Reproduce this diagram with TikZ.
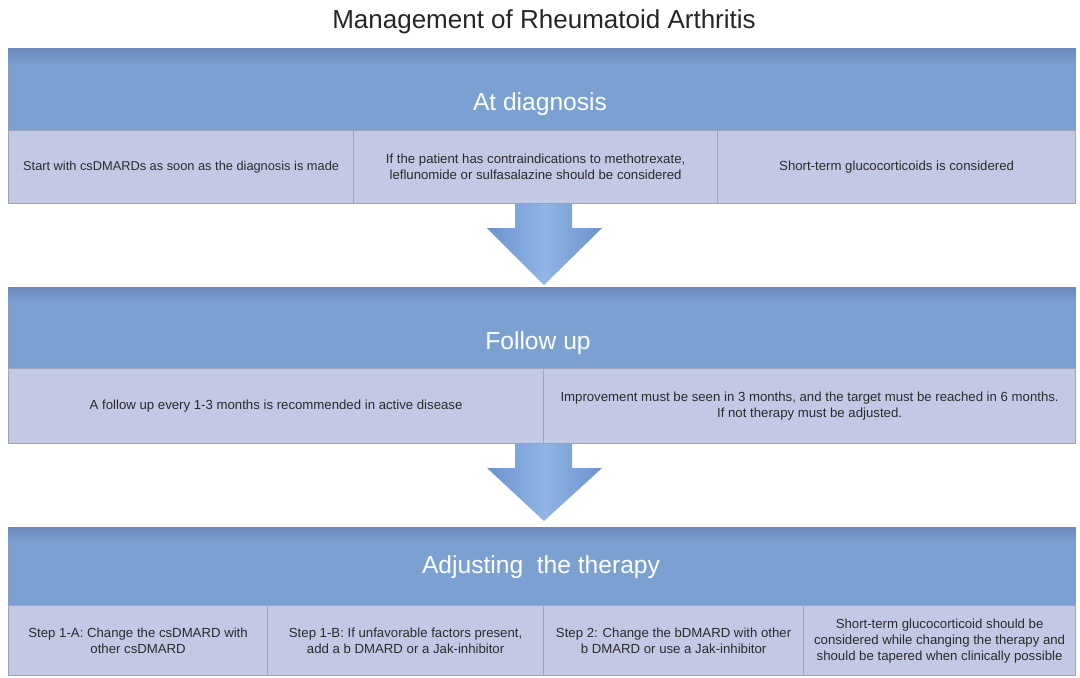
\documentclass[tikz,border=0pt]{standalone}
\usepackage{fontspec}
\setmainfont{Liberation Sans}
\definecolor{hdr}{HTML}{7BA0D2}
\definecolor{hdrdark}{HTML}{6B89BA}
\definecolor{hdrline}{HTML}{8A9CBC}
\definecolor{subfill}{HTML}{C3C9E4}
\definecolor{subline}{HTML}{9EA3B8}
\definecolor{txt}{HTML}{2B2B2B}
\definecolor{arrmid}{HTML}{90B5E6}
\definecolor{arredge}{HTML}{6A93CC}
\begin{document}
\begin{tikzpicture}[x=0.5pt,y=-0.5pt,
  hdrbox/.style={draw=hdrline, line width=0.6pt, fill=hdr, inner sep=0pt, anchor=north west},
  subbox/.style={draw=subline, line width=0.6pt, fill=subfill, inner sep=0pt, anchor=north west,
     align=center, text=txt, font=\fontsize{6.6pt}{8pt}\selectfont},
  hdrtext/.style={text=white, font=\fontsize{12.3pt}{14pt}\selectfont, anchor=base},
  titletext/.style={text=black!85, font=\fontsize{13pt}{15pt}\selectfont, anchor=base},
  bigarrow/.style={left color=arredge, right color=arredge, middle color=arrmid, draw=none}]
\useasboundingbox (0,0) rectangle (1080,677);
\fill[white] (0,0) rectangle (1080,677);

% title
\node[titletext] (title) at (544,28) {Management of Rheumatoid Arthritis};

% arrows
\path[bigarrow] (515,200) -- (572,200) -- (572,228) -- (602,228) -- (544,285) -- (487,228) -- (515,228) -- cycle;
\path[bigarrow] (515,440) -- (572,440) -- (572,468) -- (602,468) -- (544,521) -- (487,468) -- (515,468) -- cycle;

% block 1
\node[hdrbox, minimum width=533.5pt, minimum height=41pt] (h1) at (8,48) {};
\fill[top color=hdrdark, bottom color=hdr] ([shift={(0.3pt,-0.3pt)}]h1.north west) rectangle ([shift={(-0.3pt,-8pt)}]h1.north east);
\node[hdrtext] (h1t) at (540,110) {At diagnosis};
\node[subbox, minimum width=172.5pt, minimum height=36.5pt, font=\fontsize{6.4pt}{8pt}\selectfont] (s11) at (8,130) {Start with csDMARDs as soon as the diagnosis is made};
\node[subbox, minimum width=182pt, minimum height=36.5pt] (s12) at (353,130) {If the patient has contraindications to methotrexate,\\ leflunomide or sulfasalazine should be considered};
\node[subbox, minimum width=179pt, minimum height=36.5pt] (s13) at (717,130) {Short-term glucocorticoids is considered};

% block 2
\node[hdrbox, minimum width=533.5pt, minimum height=40.5pt] (h2) at (8,287) {};
\fill[top color=hdrdark, bottom color=hdr] ([shift={(0.3pt,-0.3pt)}]h2.north west) rectangle ([shift={(-0.3pt,-8pt)}]h2.north east);
\node[hdrtext] (h2t) at (538,349) {Follow up};
\node[subbox, minimum width=267.5pt, minimum height=37.5pt] (s21) at (8,368) {A follow up every 1-3 months is recommended in active disease};
\node[subbox, minimum width=266pt, minimum height=37.5pt, font=\fontsize{6.6pt}{7.6pt}\selectfont] (s22) at (543,368) {Improvement must be seen in 3 months, and the target must be reached in 6 months.\\ If not therapy must be adjusted.};

% block 3
\node[hdrbox, minimum width=533.5pt, minimum height=39pt] (h3) at (8,527) {};
\fill[top color=hdrdark, bottom color=hdr] ([shift={(0.3pt,-0.3pt)}]h3.north west) rectangle ([shift={(-0.3pt,-8pt)}]h3.north east);
\node[hdrtext] (h3t) at (541,573) {Adjusting\ \ the therapy};
\node[subbox, minimum width=129.5pt, minimum height=35pt] (s31) at (8,605) {Step 1-A: Change the csDMARD with\\ other csDMARD};
\node[subbox, minimum width=138pt, minimum height=35pt] (s32) at (267,605) {Step 1-B: If unfavorable factors present,\\ add a b DMARD or a Jak-inhibitor};
\node[subbox, minimum width=130pt, minimum height=35pt] (s33) at (543,605) {Step 2: Change the bDMARD with other\\ b DMARD or use a Jak-inhibitor};
\node[subbox, minimum width=136pt, minimum height=35pt] (s34) at (803,605) {Short-term glucocorticoid should be\\ considered while changing the therapy and\\ should be tapered when clinically possible};
\end{tikzpicture}
\end{document}
